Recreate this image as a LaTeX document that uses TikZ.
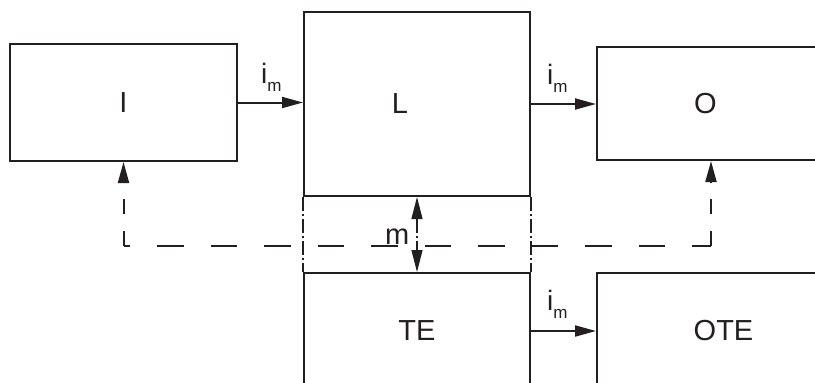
\documentclass[tikz,border=0pt]{standalone}
\usepackage{fontspec}
\setmainfont{Liberation Sans}
\usetikzlibrary{arrows.meta}
\definecolor{ink}{HTML}{231F20}
\begin{document}
\begin{tikzpicture}[x=1pt,y=-1pt,
  box/.style={draw=ink, line width=2pt, inner sep=0pt, text=ink, font=\fontsize{29}{29}\selectfont},
  lab/.style={inner sep=0pt, text=ink, font=\fontsize{29}{29}\selectfont},
  arr/.style={draw=ink, line width=2pt, -{Triangle[length=21pt,width=11pt]}},
  dd/.style={draw=ink, line width=1.3pt, dash pattern=on 14pt off 3pt on 2pt off 3pt},
  fb/.style={draw=ink, line width=2pt},
  iml/.style={anchor=base west, inner sep=0pt, text=ink}
]
\useasboundingbox (0,0) rectangle (815,383);
\clip (0,0) rectangle (815,383);
\newcommand{\imtext}{{\fontsize{28}{28}\selectfont i}\raisebox{-8pt}{\fontsize{17}{17}\selectfont m}}

% boxes
\node[box, minimum width=227pt, minimum height=117pt] (I) at (123.5,102.5) {I};
\node[box, minimum width=226pt, minimum height=184pt] (L) at (417,104) {};
\node[lab] (Llab) at (400,104) {L};
\node[box, minimum width=253pt, minimum height=113pt] (O) at (723.5,103.5) {};
\node[lab] (Olab) at (705.5,103.5) {O};
\node[box, minimum width=226pt, minimum height=116pt] (TE) at (417,331) {TE};
\node[box, minimum width=253pt, minimum height=116pt] (OTE) at (723.5,331) {OTE};

% flows
\draw[arr] (I.east) -- (I.east -| L.west);
\draw[arr] (L.east) -- (L.east -| O.west);
\draw[arr] (TE.east) -- (OTE.west);
\node[iml] (im1) at (261,83) {\imtext};
\node[iml] (im2) at (547,84) {\imtext};
\node[iml] (im3) at (547,310) {\imtext};

% dash-dot band
\draw[dd] (L.south west) -- (TE.north west);
\draw[dd] (L.south east) -- (TE.north east);
\draw[dd, {Triangle[length=22pt,width=11pt]}-{Triangle[length=22pt,width=11pt]}] (L.south) -- (TE.north);
\node[lab, anchor=base west] (mlab) at (385,244) {m};

% feedback
\coordinate (cL) at (123.5,246);
\coordinate (cR) at (711,246);
\draw[fb, dash pattern=on 15pt off 17pt, -{Triangle[length=21pt,width=11pt]}] (cL) -- (I.south);
\draw[fb, dash pattern=on 15pt off 17pt, -{Triangle[length=21pt,width=11pt]}] (cR) -- (cR |- O.south);
\draw[fb, dash pattern=on 26.75pt off 26.75pt, dash phase=20pt] (cL) -- (cR);
\end{tikzpicture}
\end{document}
